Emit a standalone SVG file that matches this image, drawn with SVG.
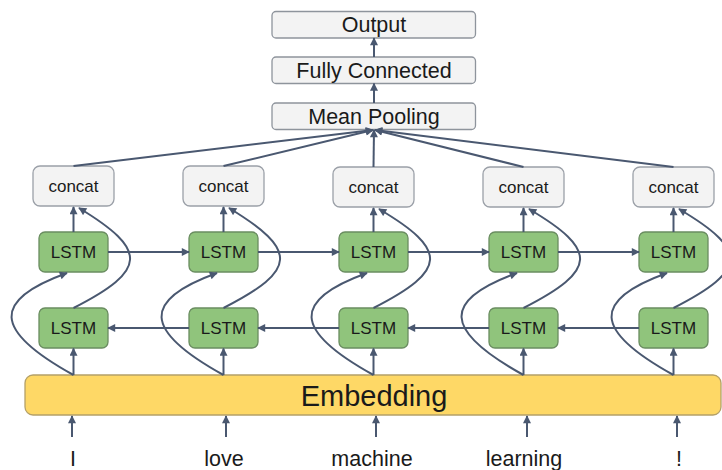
<svg xmlns="http://www.w3.org/2000/svg" width="722" height="470" viewBox="0 0 722 470">
<defs>
<style>
.box{fill:#f3f3f3;stroke:#8e949c;stroke-width:1.3}
.cc{fill:#f3f3f3;stroke:#9ba0a8;stroke-width:1.3}
.lstm{fill:#90c47c;stroke:#6a8d60;stroke-width:1.3}
.emb{fill:#fed866;stroke:#b4a068;stroke-width:1.3}
text{font-family:"Liberation Sans",Arial,sans-serif;fill:#1a1a1a;text-anchor:middle}
.t22{font-size:21.5px}
.t17{font-size:17px}
.ln{fill:none;stroke:#4a5870;stroke-width:2;marker-end:url(#ah)}
</style>
<marker id="ah" viewBox="0 0 10 10" refX="9" refY="5" markerWidth="10" markerHeight="8" markerUnits="userSpaceOnUse" orient="auto"><path d="M0,0 L10,5 L0,10 z" fill="#4a5870"/></marker>
</defs>

<g id="output"><rect class="box" x="272" y="11.5" width="203.5" height="26.5" rx="4"/><text class="t22" x="374" y="32">Output</text></g>
<g id="fc"><rect class="box" x="272" y="57" width="203.5" height="26.5" rx="4"/><text class="t22" x="374" y="78">Fully Connected</text></g>
<g id="meanpool"><rect class="box" x="272" y="103" width="203.5" height="26.5" rx="4"/><text class="t22" x="374" y="124">Mean Pooling</text></g>

<g id="concat1"><rect class="cc" x="33" y="166" width="81" height="40" rx="7"/><text class="t17" x="73.5" y="192">concat</text></g>
<g id="concat2"><rect class="cc" x="183" y="166" width="81" height="40" rx="7"/><text class="t17" x="223.5" y="192">concat</text></g>
<g id="concat3"><rect class="cc" x="333" y="167" width="81" height="40" rx="7"/><text class="t17" x="373.5" y="193">concat</text></g>
<g id="concat4"><rect class="cc" x="483" y="167" width="81" height="40" rx="7"/><text class="t17" x="523.5" y="193">concat</text></g>
<g id="concat5"><rect class="cc" x="633" y="167" width="81" height="40" rx="7"/><text class="t17" x="673.5" y="193">concat</text></g>

<g id="lstmF1"><rect class="lstm" x="39" y="232" width="69" height="40" rx="6"/><text class="t17" x="73.5" y="258">LSTM</text></g>
<g id="lstmF2"><rect class="lstm" x="189" y="232" width="69" height="40" rx="6"/><text class="t17" x="223.5" y="258">LSTM</text></g>
<g id="lstmF3"><rect class="lstm" x="339" y="232" width="69" height="40" rx="6"/><text class="t17" x="373.5" y="258">LSTM</text></g>
<g id="lstmF4"><rect class="lstm" x="489" y="232" width="69" height="40" rx="6"/><text class="t17" x="523.5" y="258">LSTM</text></g>
<g id="lstmF5"><rect class="lstm" x="639" y="232" width="69" height="40" rx="6"/><text class="t17" x="673.5" y="258">LSTM</text></g>

<g id="lstmB1"><rect class="lstm" x="39" y="308" width="69" height="40" rx="6"/><text class="t17" x="73.5" y="334">LSTM</text></g>
<g id="lstmB2"><rect class="lstm" x="189" y="308" width="69" height="40" rx="6"/><text class="t17" x="223.5" y="334">LSTM</text></g>
<g id="lstmB3"><rect class="lstm" x="339" y="308" width="69" height="40" rx="6"/><text class="t17" x="373.5" y="334">LSTM</text></g>
<g id="lstmB4"><rect class="lstm" x="489" y="308" width="69" height="40" rx="6"/><text class="t17" x="523.5" y="334">LSTM</text></g>
<g id="lstmB5"><rect class="lstm" x="639" y="308" width="69" height="40" rx="6"/><text class="t17" x="673.5" y="334">LSTM</text></g>

<g id="embedding"><rect class="emb" x="25" y="375" width="696" height="40" rx="8"/><text x="374" y="406" style="font-size:29px">Embedding</text></g>

<g id="words">
<text class="t22" x="73" y="466">I</text>
<text class="t22" x="224" y="466">love</text>
<text class="t22" x="372" y="466">machine</text>
<text class="t22" x="524" y="466">learning</text>
<text class="t22" x="679" y="466">!</text>
</g>

<g id="connectors">
<path class="ln" d="M374,57 L374,38"/>
<path class="ln" d="M374,103 L374,83.5"/>
<path class="ln" d="M73.5,166 L373,130"/>
<path class="ln" d="M223.5,166 L373,130"/>
<path class="ln" d="M373.5,167 L374,130"/>
<path class="ln" d="M523.5,167 L375,130"/>
<path class="ln" d="M673.5,167 L375,130"/>

<path class="ln" d="M72,437 L72,416"/>
<path class="ln" d="M226,437 L226,416"/>
<path class="ln" d="M376,437 L376,416"/>
<path class="ln" d="M527,437 L527,416"/>
<path class="ln" d="M677,437 L677,416"/>

<path class="ln" d="M73.5,375 L73.5,348.5"/>
<path class="ln" d="M223.5,375 L223.5,348.5"/>
<path class="ln" d="M373.5,375 L373.5,348.5"/>
<path class="ln" d="M523.5,375 L523.5,348.5"/>
<path class="ln" d="M673.5,375 L673.5,348.5"/>

<path class="ln" d="M73.5,232 L73.5,207"/>
<path class="ln" d="M223.5,232 L223.5,207"/>
<path class="ln" d="M373.5,232 L373.5,208"/>
<path class="ln" d="M523.5,232 L523.5,208"/>
<path class="ln" d="M673.5,232 L673.5,208"/>

<path class="ln" d="M108,252 L189,252"/>
<path class="ln" d="M258,252 L339,252"/>
<path class="ln" d="M408,252 L489,252"/>
<path class="ln" d="M558,252 L639,252"/>

<path class="ln" d="M189,328 L108,328"/>
<path class="ln" d="M339,328 L258,328"/>
<path class="ln" d="M489,328 L408,328"/>
<path class="ln" d="M639,328 L558,328"/>

<path class="ln" d="M73.5,375 C-8,330 -8,300 67,273"/>
<path class="ln" d="M223.5,375 C142,330 142,300 217,273"/>
<path class="ln" d="M373.5,375 C292,330 292,300 367,273"/>
<path class="ln" d="M523.5,375 C442,330 442,300 517,273"/>
<path class="ln" d="M673.5,375 C592,330 592,300 667,273"/>

<path class="ln" d="M73.5,308 C148,270 148,250 79,208"/>
<path class="ln" d="M223.5,308 C298,270 298,250 229,208"/>
<path class="ln" d="M373.5,308 C448,270 448,250 379,209"/>
<path class="ln" d="M523.5,308 C598,270 598,250 529,209"/>
<path class="ln" d="M673.5,308 C748,270 748,250 679,209"/>
</g>
</svg>
